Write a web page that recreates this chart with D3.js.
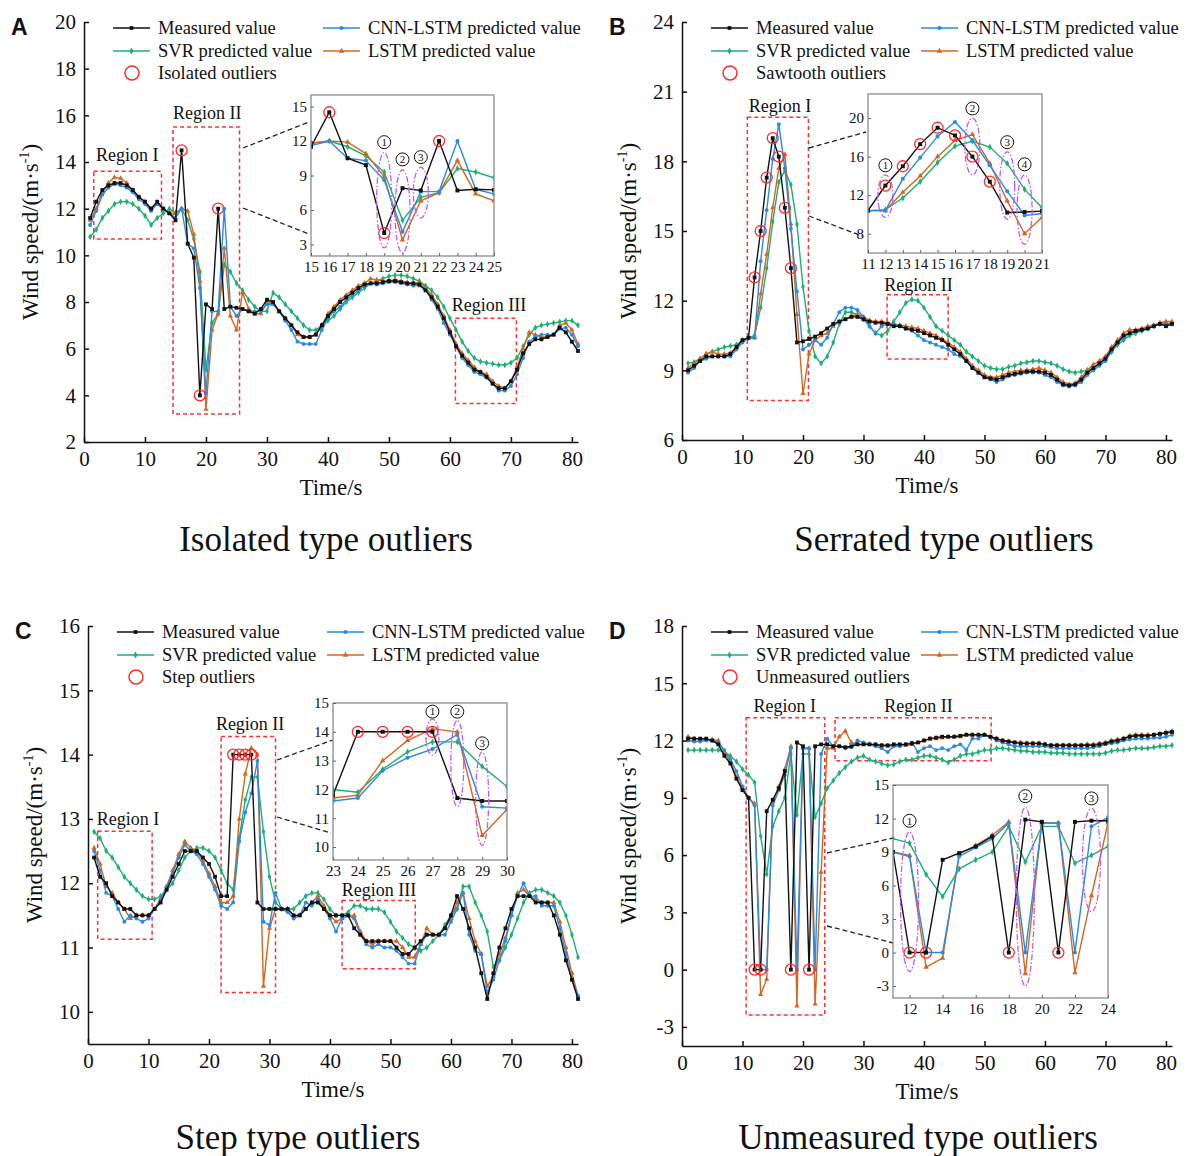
<!DOCTYPE html>
<html>
<head>
<meta charset="utf-8">
<script src="https://cdn.jsdelivr.net/npm/d3@7"></script>
<style>
  body { margin: 0; background: #fff; }
  svg { display: block; }
  text { fill: #111; }
</style>
</head>
<body>
<svg id="chart" width="1188" height="1156"></svg>
<script>
// time axis, seconds 1..81
const time = d3.range(1, 82)

// ---- A : isolated outliers
const aMeasured = [11.6, 12.3, 12.8, 13.0, 13.1, 13.1, 13.0, 12.8, 12.5, 12.3,
  12.0, 12.3, 12.0, 11.8, 11.5, 14.5, 10.5, 9.9, 4.0, 7.9,
  7.7, 12.0, 7.7, 7.8, 7.75, 7.7, 7.6, 7.5, 7.7, 8.1,
  8.0, 7.6, 7.3, 7.0, 6.7, 6.5, 6.5, 6.6, 7.0, 7.4,
  7.7, 8.0, 8.2, 8.4, 8.6, 8.75, 8.8, 8.8, 8.85, 8.9,
  8.9, 8.85, 8.8, 8.8, 8.75, 8.5, 8.2, 7.8, 7.3, 6.7,
  6.1, 5.7, 5.4, 5.1, 5.0, 4.8, 4.5, 4.3, 4.3, 4.6,
  5.1, 5.8, 6.2, 6.4, 6.4, 6.5, 6.6, 6.9, 6.7, 6.3, 5.9]
const aCnn = [11.3, 11.9, 12.6, 12.9, 13.05, 13.0, 12.9, 12.7, 12.4, 12.2,
  11.9, 12.2, 12.0, 11.8, 11.6, 12.0, 10.5, 10.3, 8.6, 4.1,
  7.6, 7.6, 12.0, 7.8, 7.4, 7.7, 7.6, 7.6, 7.6, 7.9,
  7.9, 7.6, 7.2, 6.8, 6.3, 6.2, 6.2, 6.2, 6.8, 7.3,
  7.6, 7.8, 8.1, 8.3, 8.5, 8.7, 8.8, 8.75, 8.8, 8.85,
  8.85, 8.8, 8.75, 8.7, 8.7, 8.5, 8.1, 7.7, 7.1, 6.6,
  6.1, 5.6, 5.3, 5.0, 4.9, 4.75, 4.5, 4.2, 4.2, 4.4,
  4.9, 5.6, 6.3, 6.5, 6.6, 6.6, 6.6, 6.85, 6.9, 6.6, 6.1]
const aSvr = [10.8, 11.1, 11.6, 11.9, 12.2, 12.3, 12.3, 12.2, 12.0, 11.7,
  11.3, 11.6, 11.8, 12.0, 11.8, 12.0, 11.5, 10.7, 9.3, 5.1,
  7.1, 7.5, 9.6, 9.3, 8.8, 8.5, 8.1, 7.8, 7.6, 7.6,
  8.4, 8.2, 7.9, 7.6, 7.3, 7.0, 6.8, 6.8, 7.0, 7.2,
  7.4, 7.7, 8.0, 8.2, 8.4, 8.6, 8.8, 8.9, 9.0, 9.1,
  9.15, 9.15, 9.1, 9.0, 8.9, 8.7, 8.5, 8.2, 7.8, 7.3,
  6.8, 6.3, 5.9, 5.6, 5.45, 5.4, 5.35, 5.3, 5.3, 5.4,
  5.6, 6.1, 6.6, 6.9, 7.0, 7.05, 7.1, 7.15, 7.2, 7.2, 7.0]
const aLstm = [11.5, 12.0, 12.7, 13.1, 13.35, 13.3, 13.1, 12.8, 12.5, 12.3,
  12.0, 12.2, 12.0, 11.8, 11.8, 12.0, 11.9, 10.9, 8.9, 3.4,
  6.8, 7.5, 10.3, 7.4, 6.8, 8.4, 7.7, 7.5, 7.5, 8.0,
  7.9, 7.6, 7.3, 7.0, 6.6, 6.5, 6.5, 6.6, 7.0, 7.5,
  7.8, 8.1, 8.3, 8.5, 8.7, 8.8, 9.0, 8.95, 8.9, 8.9,
  8.95, 8.9, 8.85, 8.8, 8.85, 8.6, 8.3, 7.9, 7.4, 6.8,
  6.2, 5.8, 5.5, 5.2, 5.0, 4.9, 4.6, 4.4, 4.3, 4.6,
  5.2, 6.0, 6.7, 6.6, 6.5, 6.5, 6.6, 7.0, 7.1, 6.8, 6.2]
const aOutliers = [16, 19, 22]

// ---- B : sawtooth outliers
const bMeasured = [9.0, 9.2, 9.4, 9.6, 9.6, 9.6, 9.6, 9.7, 10.0, 10.3,
  10.4, 13.0, 15.0, 17.3, 19.0, 18.2, 16.0, 13.4, 10.2, 10.25,
  10.35, 10.45, 10.6, 10.8, 11.0, 11.1, 11.2, 11.3, 11.3, 11.2,
  11.1, 11.05, 11.05, 11.0, 10.9, 10.9, 10.8, 10.75, 10.7, 10.6,
  10.5, 10.4, 10.3, 10.1, 9.9, 9.7, 9.4, 9.1, 8.9, 8.7,
  8.65, 8.6, 8.7, 8.8, 8.85, 8.9, 8.95, 8.95, 8.95, 8.9,
  8.8, 8.6, 8.4, 8.35, 8.4, 8.6, 8.9, 9.1, 9.3, 9.5,
  9.9, 10.2, 10.5, 10.6, 10.7, 10.75, 10.8, 10.9, 11.0, 10.9, 11.0]
const bCnn = [8.9, 9.1, 9.4, 9.5, 9.6, 9.6, 9.6, 9.6, 9.9, 10.2,
  10.4, 10.4, 13.7, 15.9, 18.1, 19.6, 17.7, 15.1, 12.4, 9.9,
  10.1, 10.3, 10.1, 10.4, 11.0, 11.5, 11.7, 11.7, 11.6, 11.3,
  10.9, 10.6, 10.9, 11.0, 11.0, 10.9, 10.8, 10.7, 10.5, 10.3,
  10.2, 10.1, 10.0, 9.9, 9.7, 9.6, 9.4, 9.1, 8.9, 8.7,
  8.6, 8.5, 8.6, 8.75, 8.8, 8.85, 8.9, 8.9, 8.9, 8.8,
  8.7, 8.5, 8.35, 8.3, 8.35, 8.5, 8.8, 9.0, 9.2, 9.4,
  9.8, 10.2, 10.4, 10.6, 10.65, 10.7, 10.8, 10.9, 11.0, 11.0, 11.0]
const bSvr = [9.3, 9.35, 9.5, 9.7, 9.8, 9.9, 10.0, 10.05, 10.1, 10.3,
  10.4, 10.5, 11.7, 13.4, 15.4, 17.1, 17.6, 17.0, 15.3, 12.6,
  10.7, 9.6, 9.3, 9.6, 10.2, 11.0, 11.5, 11.5, 11.4, 11.2,
  10.9, 10.6, 10.5, 10.7, 11.1, 11.5, 11.9, 12.05, 12.0, 11.7,
  11.3, 10.9, 10.7, 10.5, 10.3, 10.1, 9.8, 9.6, 9.4, 9.2,
  9.1, 9.05, 9.05, 9.15, 9.2, 9.3, 9.35, 9.4, 9.4, 9.35,
  9.3, 9.2, 9.05, 8.95, 8.9, 8.95, 9.0, 9.1, 9.3, 9.5,
  9.8, 10.1, 10.3, 10.5, 10.6, 10.7, 10.8, 10.9, 11.0, 11.0, 11.0]
const bLstm = [9.1, 9.3, 9.5, 9.7, 9.8, 9.7, 9.7, 9.75, 10.0, 10.3,
  10.4, 10.4, 12.3, 14.0, 16.0, 17.7, 18.3, 15.3, 11.4, 8.0,
  9.7, 10.3, 10.5, 10.6, 10.9, 11.1, 11.2, 11.35, 11.4, 11.3,
  11.15, 11.1, 11.1, 11.05, 11.0, 10.95, 10.9, 10.85, 10.8, 10.7,
  10.6, 10.5, 10.35, 10.2, 10.0, 9.8, 9.5, 9.2, 9.0, 8.8,
  8.7, 8.7, 8.8, 8.9, 8.95, 9.0, 9.0, 9.05, 9.1, 9.0,
  8.9, 8.7, 8.5, 8.4, 8.45, 8.7, 9.0, 9.25, 9.4, 9.6,
  10.0, 10.3, 10.6, 10.75, 10.75, 10.8, 10.9, 10.95, 11.05, 11.1, 11.1]
const bOutliers = [12, 13, 14, 15, 16, 17, 18]

// ---- C : step outliers
const cMeasured = [12.4, 12.1, 12.0, 11.8, 11.7, 11.6, 11.6, 11.5, 11.5, 11.5,
  11.6, 11.7, 11.9, 12.1, 12.3, 12.5, 12.5, 12.5, 12.4, 12.3,
  12.1, 11.8, 11.8, 14.0, 14.0, 14.0, 14.0, 11.7, 11.6, 11.6,
  11.6, 11.6, 11.6, 11.5, 11.5, 11.6, 11.7, 11.7, 11.6, 11.5,
  11.5, 11.5, 11.5, 11.3, 11.2, 11.1, 11.1, 11.1, 11.1, 11.1,
  11.0, 10.9, 10.9, 11.0, 11.1, 11.2, 11.2, 11.2, 11.3, 11.5,
  11.8, 11.6, 11.3, 11.0, 10.6, 10.2, 10.6, 11.0, 11.3, 11.6,
  11.8, 11.8, 11.8, 11.7, 11.7, 11.7, 11.5, 11.2, 10.8, 10.5, 10.2]
const cCnn = [12.5, 12.2, 11.85, 11.8, 11.6, 11.4, 11.5, 11.45, 11.4, 11.45,
  11.6, 11.75, 11.95, 12.15, 12.4, 12.6, 12.5, 12.45, 12.3, 12.1,
  11.9, 11.65, 11.6, 11.7, 12.65, 13.1, 13.4, 13.9, 11.4, 11.35,
  11.85, 11.6, 11.55, 11.45, 11.5, 11.7, 11.65, 11.75, 11.6, 11.45,
  11.25, 11.45, 11.5, 11.45, 11.2, 11.05, 11.0, 11.05, 11.0, 11.0,
  10.95, 10.85, 10.75, 10.75, 11.05, 11.2, 11.2, 11.2, 11.2, 11.4,
  11.6, 11.85, 11.2, 10.95, 10.9, 10.3, 10.5, 10.8, 11.1, 11.5,
  11.8, 12.0, 11.8, 11.8, 11.65, 11.65, 11.65, 11.3, 10.9, 10.5, 10.25]
const cSvr = [12.8, 12.7, 12.5, 12.4, 12.25, 12.1, 12.0, 11.9, 11.8, 11.75,
  11.75, 11.8, 11.9, 12.0, 12.2, 12.4, 12.5, 12.55, 12.55, 12.5,
  12.4, 12.2, 12.0, 11.9, 12.7, 13.3, 13.65, 13.65, 12.8, 12.1,
  11.7, 11.6, 11.6, 11.6, 11.7, 11.8, 11.85, 11.85, 11.75, 11.6,
  11.5, 11.5, 11.55, 11.65, 11.65, 11.6, 11.6, 11.6, 11.55, 11.4,
  11.25, 11.15, 11.05, 11.0, 10.95, 11.0, 11.1, 11.2, 11.35, 11.5,
  11.6, 11.95, 11.95, 11.7, 11.5, 11.25, 10.7, 10.8, 11.0, 11.2,
  11.45, 11.7, 11.85, 11.9, 11.9, 11.85, 11.8, 11.7, 11.5, 11.2, 10.85]
const cLstm = [12.55, 12.3, 11.95, 11.85, 11.7, 11.6, 11.45, 11.5, 11.5, 11.5,
  11.6, 11.75, 11.95, 12.2, 12.45, 12.65, 12.55, 12.5, 12.35, 12.15,
  11.95, 11.7, 11.7, 11.8, 13.0, 13.7, 14.1, 14.0, 10.4, 11.3,
  11.6, 11.6, 11.6, 11.5, 11.5, 11.6, 11.7, 11.8, 11.65, 11.5,
  11.4, 11.45, 11.5, 11.5, 11.25, 11.1, 11.05, 11.1, 11.1, 11.1,
  11.1, 11.0, 10.85, 10.85, 11.05, 11.3, 11.2, 11.2, 11.3, 11.45,
  11.7, 11.85, 11.45, 11.1, 10.9, 10.4, 10.55, 10.9, 11.15, 11.5,
  11.85, 11.9, 11.8, 11.75, 11.7, 11.7, 11.7, 11.4, 11.0, 10.6, 10.25]
const cOutliers = [24, 25, 26, 27]

// ---- D : unmeasured outliers
const dMeasured = [12.1, 12.1, 12.1, 12.1, 12.0, 11.8, 11.2, 10.8, 10.0, 9.4,
  9.0, 0, 0, 8.3, 8.9, 9.5, 10.4, 0, 11.9, 11.7,
  0, 11.7, 11.8, 11.8, 11.7, 11.7, 11.65, 11.7, 11.8, 11.8,
  11.8, 11.8, 11.75, 11.75, 11.8, 11.8, 11.8, 11.85, 11.9, 12.0,
  12.1, 12.15, 12.2, 12.2, 12.2, 12.25, 12.3, 12.3, 12.3, 12.3,
  12.2, 12.1, 12.0, 11.95, 11.9, 11.85, 11.85, 11.85, 11.85, 11.8,
  11.75, 11.75, 11.75, 11.75, 11.75, 11.75, 11.75, 11.75, 11.8, 11.85,
  11.95, 12.0, 12.1, 12.2, 12.25, 12.25, 12.25, 12.3, 12.35, 12.4, 12.45]
const dCnn = [12.0, 11.95, 11.95, 12.0, 12.0, 11.9, 11.5, 11.0, 10.4, 9.6,
  9.0, 8.6, 0, 0, 8.6, 9.4, 10.2, 11.6, 0, 11.6,
  11.6, 0, 11.3, 12.1, 11.7, 11.7, 11.6, 11.65, 12.0, 11.9,
  11.8, 11.7, 11.6, 11.4, 11.7, 11.7, 11.8, 11.9, 11.4, 11.6,
  11.7, 11.5, 11.6, 11.5, 11.7, 11.8, 11.5, 12.1, 12.1, 12.3,
  12.2, 12.0, 11.9, 11.8, 11.7, 11.7, 11.7, 11.7, 11.7, 11.7,
  11.65, 11.6, 11.6, 11.6, 11.6, 11.6, 11.6, 11.65, 11.7, 11.8,
  11.85, 11.9, 12.0, 12.05, 12.1, 12.1, 12.1, 12.15, 12.15, 12.2, 12.3]
const dSvr = [11.5, 11.5, 11.5, 11.5, 11.5, 11.5, 11.4, 11.2, 10.9, 10.5,
  10.2, 9.8, 7.0, 5.0, 7.5, 8.3, 9.0, 11.3, 8.1, 11.3,
  11.3, 8.0, 8.7, 9.5, 9.9, 10.3, 10.6, 10.9, 11.1, 11.2,
  11.0, 10.9, 10.8, 10.7, 10.75, 10.9, 11.0, 11.0, 11.1, 11.2,
  11.2, 11.1, 11.0, 10.85, 11.0, 11.2, 11.3, 11.3, 11.4, 11.5,
  11.5, 11.6, 11.6, 11.55, 11.5, 11.45, 11.45, 11.4, 11.4, 11.4,
  11.35, 11.35, 11.35, 11.3, 11.3, 11.3, 11.3, 11.3, 11.3, 11.35,
  11.45, 11.5, 11.5, 11.55, 11.6, 11.6, 11.6, 11.65, 11.7, 11.7, 11.75]
const dLstm = [12.2, 12.1, 12.05, 12.05, 12.05, 12.0, 11.4, 10.9, 10.1, 9.5,
  9.0, 8.7, -1.3, -0.5, 8.8, 9.6, 10.5, 11.7, -1.9, 11.6,
  11.6, -1.8, 5.1, 11.6, 11.6, 12.2, 12.5, 11.9, 11.8, 11.8,
  11.8, 11.75, 11.75, 11.7, 11.75, 11.75, 11.75, 11.8, 11.9, 12.0,
  12.1, 12.1, 12.15, 12.2, 12.2, 12.2, 12.3, 12.3, 12.3, 12.3,
  12.2, 12.1, 12.0, 11.95, 11.9, 11.9, 11.85, 11.85, 11.85, 11.8,
  11.75, 11.75, 11.75, 11.75, 11.75, 11.75, 11.8, 11.8, 11.85, 11.9,
  12.0, 12.05, 12.1, 12.25, 12.3, 12.3, 12.3, 12.3, 12.35, 12.45, 12.5]
const dOutliers = [12, 13, 18, 21]

// draw order: green, orange, blue, black on top
const seriesStyle = [
  { key: "svr", name: "SVR predicted value", color: "#1daf74", symbol: d3.symbolDiamond },
  { key: "lstm", name: "LSTM predicted value", color: "#d4661f", symbol: d3.symbolTriangle },
  { key: "cnn", name: "CNN-LSTM predicted value", color: "#2a8ae4", symbol: d3.symbolCircle },
  { key: "measured", name: "Measured value", color: "#111111", symbol: d3.symbolSquare },
]
const styleOf = (k) => seriesStyle.find((s) => s.key === k)

const serif = "'Liberation Serif', 'Times New Roman', serif"
const svg = d3.select("#chart").style("font-family", serif)
svg.append("rect").attr("width", 1188).attr("height", 1156).attr("fill", "#fff")

let clipId = 0
const plain = (d) => String(d)

function drawLines(g, x, y, series, outliers, domain, msize, orad) {
  const idx = time.map((t, i) => i).filter((i) => time[i] >= domain[0] && time[i] <= domain[1])
  const line = d3.line().x((i) => x(time[i]))

  seriesStyle.forEach((s) => {
    const vals = series[s.key]
    g.append("path")
      .attr("d", line.y((i) => y(vals[i]))(idx))
      .attr("fill", "none")
      .attr("stroke", s.color)
      .attr("stroke-width", 1.4)

    g.selectAll(null)
      .data(idx)
      .join("path")
      .attr("transform", (i) => `translate(${x(time[i])},${y(vals[i])})`)
      .attr("d", d3.symbol(s.symbol, s.key == "measured" ? msize * 1.2 : msize))
      .attr("fill", s.color)
  })

  g.selectAll(null)
    .data(outliers.filter((t) => t >= domain[0] && t <= domain[1]))
    .join("circle")
    .attr("cx", (t) => x(t))
    .attr("cy", (t) => y(series.measured[time.indexOf(t)]))
    .attr("r", orad)
    .attr("fill", "none")
    .attr("stroke", "#ff2b2b")
    .attr("stroke-width", 1.3)
}

function drawPanel(p) {
  const g = svg.append("g")
  const x = d3.scaleLinear().domain([0, 81]).range([p.left, p.right])
  const y = d3.scaleLinear().domain(p.yDomain).range([p.bottom, p.top])

  //region boxes
  p.regions.forEach((r) => {
    g.append("rect")
      .attr("x", x(r.t0)).attr("y", y(r.v1))
      .attr("width", x(r.t1) - x(r.t0)).attr("height", y(r.v0) - y(r.v1))
      .attr("fill", "none").attr("stroke", "#ff3030")
      .attr("stroke-width", 1.5).attr("stroke-dasharray", "4,3")
    g.append("text")
      .attr("x", x(r.lt)).attr("y", y(r.lv))
      .attr("dy", "0.35em").attr("text-anchor", "middle")
      .style("font-size", "18px").text(r.label)
  })

  drawLines(g, x, y, p.series, p.outliers, [0, 81], 12, 5.5)

  //axes
  const ax = g.append("g")
    .attr("transform", `translate(0,${p.bottom})`)
    .call(d3.axisBottom(x).tickValues(d3.range(0, 81, 10)).tickFormat(plain).tickSizeInner(-5).tickSizeOuter(0).tickPadding(9))
  const ay = g.append("g")
    .attr("transform", `translate(${p.left},0)`)
    .call(d3.axisLeft(y).tickValues(p.yTicks).tickFormat(plain).tickSizeInner(-5).tickSizeOuter(0).tickPadding(8))
  ;[ax, ay].forEach((a) => {
    a.attr("font-family", null).attr("font-size", null)
    a.selectAll("path, line").attr("stroke", "#111").attr("stroke-width", 1.5)
    a.selectAll("text").style("font-size", "21px").attr("fill", "#111")
  })

  //axis titles
  g.append("text")
    .attr("x", (p.left + p.right) / 2).attr("y", p.bottom + 53)
    .attr("text-anchor", "middle").style("font-size", "23px").text("Time/s")
  const yt = g.append("text")
    .attr("transform", `translate(${p.left - 46},${(p.top + p.bottom) / 2}) rotate(-90)`)
    .attr("text-anchor", "middle").style("font-size", "23px")
  yt.append("tspan").text("Wind speed/(m·s")
  yt.append("tspan").attr("dy", -9).style("font-size", "14px").text("-1")
  yt.append("tspan").attr("dy", 9).text(")")

  //panel letter + caption
  g.append("text")
    .attr("x", p.left - 73).attr("y", p.top + 13)
    .style("font-family", "'Liberation Sans', Arial, sans-serif").style("font-weight", "bold")
    .style("font-size", "23px").text(p.letter)
  g.append("text")
    .attr("x", p.capX).attr("y", p.capY)
    .attr("text-anchor", "middle").style("font-size", "35px").text(p.caption)

  //legend
  const rows = [
    [["measured", 0, 0], ["cnn", 1, 0]],
    [["svr", 0, 1], ["lstm", 1, 1]],
  ]
  const lx = [p.left + 29, p.left + 239]
  const ly = [p.top + 6, p.top + 29, p.top + 51]
  rows.flat().forEach(([k, c, r]) => {
    const s = styleOf(k)
    g.append("line")
      .attr("x1", lx[c]).attr("x2", lx[c] + 37)
      .attr("y1", ly[r]).attr("y2", ly[r])
      .attr("stroke", s.color).attr("stroke-width", 1.6)
    g.append("path")
      .attr("transform", `translate(${lx[c] + 18.5},${ly[r]})`)
      .attr("d", d3.symbol(s.symbol, 14))
      .attr("fill", s.color)
    g.append("text")
      .attr("x", lx[c] + 45).attr("y", ly[r]).attr("dy", "0.35em")
      .style("font-size", "18.5px").text(s.name)
  })
  g.append("circle")
    .attr("cx", lx[0] + 19).attr("cy", ly[2]).attr("r", 7)
    .attr("fill", "none").attr("stroke", "#ff2b2b").attr("stroke-width", 1.5)
  g.append("text")
    .attr("x", lx[0] + 45).attr("y", ly[2]).attr("dy", "0.35em")
    .style("font-size", "18.5px").text(p.outlierLabel)

  drawInset(g, p)
}

function drawInset(g, p) {
  const q = p.inset
  //dashed connectors
  q.connectors.forEach((c) => {
    g.append("line")
      .attr("x1", c[0]).attr("y1", c[1]).attr("x2", c[2]).attr("y2", c[3])
      .attr("stroke", "#222").attr("stroke-width", 1.3).attr("stroke-dasharray", "5,3")
  })

  const x = d3.scaleLinear().domain(q.xDomain).range([q.left, q.right])
  const y = d3.scaleLinear().domain(q.yDomain).range([q.bottom, q.top])
  const ig = g.append("g")
  ig.append("rect")
    .attr("x", q.left).attr("y", q.top)
    .attr("width", q.right - q.left).attr("height", q.bottom - q.top)
    .attr("fill", "#fff")

  const id = "clip" + clipId++
  ig.append("clipPath").attr("id", id)
    .append("rect")
    .attr("x", q.left).attr("y", q.top)
    .attr("width", q.right - q.left).attr("height", q.bottom - q.top)
  const body = ig.append("g").attr("clip-path", `url(#${id})`)

  drawLines(body, x, y, p.series, p.outliers, q.xDomain, 13, 5.5)

  //purple dash-dot ellipses with circled numbers
  q.ellipses.forEach((e, i) => {
    ig.append("ellipse")
      .attr("cx", x(e.t)).attr("cy", (y(e.lo) + y(e.hi)) / 2)
      .attr("rx", q.rx).attr("ry", (y(e.lo) - y(e.hi)) / 2)
      .attr("fill", "none").attr("stroke", "#c35af0")
      .attr("stroke-width", 1.3).attr("stroke-dasharray", "6,2,1.5,2")
    ig.append("circle")
      .attr("cx", x(e.t)).attr("cy", y(e.lv)).attr("r", 6.5)
      .attr("fill", "#fff").attr("stroke", "#111").attr("stroke-width", 1)
    ig.append("text")
      .attr("x", x(e.t)).attr("y", y(e.lv)).attr("dy", "0.35em")
      .attr("text-anchor", "middle").style("font-size", "11px").text(i + 1)
  })

  ig.append("rect")
    .attr("x", q.left).attr("y", q.top)
    .attr("width", q.right - q.left).attr("height", q.bottom - q.top)
    .attr("fill", "none").attr("stroke", "#8c8c8c").attr("stroke-width", 1.3)

  const ax = ig.append("g")
    .attr("transform", `translate(0,${q.bottom})`)
    .call(d3.axisBottom(x).tickValues(q.xTicks).tickFormat(plain).tickSizeInner(-3).tickSizeOuter(0).tickPadding(5))
  const ay = ig.append("g")
    .attr("transform", `translate(${q.left},0)`)
    .call(d3.axisLeft(y).tickValues(q.yTicks).tickFormat(plain).tickSizeInner(-3).tickSizeOuter(0).tickPadding(4))
  ;[ax, ay].forEach((a) => {
    a.attr("font-family", null).attr("font-size", null)
    a.select(".domain").remove()
    a.selectAll("line").attr("stroke", "#666")
    a.selectAll("text").style("font-size", "15px").attr("fill", "#111")
  })
}

drawPanel({
  letter: "A", caption: "Isolated type outliers", capX: 326, capY: 551,
  left: 84, right: 578, top: 22, bottom: 442,
  yDomain: [2, 20], yTicks: d3.range(2, 21, 2),
  series: { measured: aMeasured, cnn: aCnn, svr: aSvr, lstm: aLstm },
  outliers: aOutliers, outlierLabel: "Isolated outliers",
  regions: [
    { t0: 1.6, t1: 12.7, v0: 10.7, v1: 13.6, label: "Region I", lt: 7.1, lv: 14.3 },
    { t0: 14.6, t1: 25.5, v0: 3.2, v1: 15.5, label: "Region II", lt: 20.2, lv: 16.1 },
    { t0: 60.9, t1: 70.9, v0: 3.65, v1: 7.3, label: "Region III", lt: 66.4, lv: 7.9 },
  ],
  inset: {
    left: 311, right: 494, top: 95, bottom: 256, rx: 7.5,
    xDomain: [15, 25], yDomain: [2, 16], xTicks: d3.range(15, 26), yTicks: [3, 6, 9, 12, 15],
    ellipses: [
      { t: 19, lo: 2.7, hi: 11.0, lv: 11.9 },
      { t: 20, lo: 2.26, hi: 9.5, lv: 10.4 },
      { t: 21, lo: 5.3, hi: 9.7, lv: 10.6 },
    ],
    connectors: [[243, 148, 309, 122], [243, 208, 309, 234]],
  },
})

drawPanel({
  letter: "B", caption: "Serrated type outliers", capX: 944, capY: 551,
  left: 682, right: 1172, top: 22, bottom: 440,
  yDomain: [6, 24], yTicks: d3.range(6, 25, 3),
  series: { measured: bMeasured, cnn: bCnn, svr: bSvr, lstm: bLstm },
  outliers: bOutliers, outlierLabel: "Sawtooth outliers",
  regions: [
    { t0: 10.8, t1: 20.9, v0: 7.7, v1: 19.9, label: "Region I", lt: 16.2, lv: 20.4 },
    { t0: 33.9, t1: 44.0, v0: 9.49, v1: 12.26, label: "Region II", lt: 39.1, lv: 12.7 },
  ],
  inset: {
    left: 868, right: 1042, top: 94, bottom: 253, rx: 7.5,
    xDomain: [11, 21], yDomain: [6, 22.5], xTicks: d3.range(11, 22), yTicks: [8, 12, 16, 20],
    ellipses: [
      { t: 12, lo: 9.7, hi: 14.1, lv: 15.1 },
      { t: 17, lo: 14.1, hi: 20.0, lv: 21.0 },
      { t: 19, lo: 9.5, hi: 16.5, lv: 17.5 },
      { t: 20, lo: 6.9, hi: 14.1, lv: 15.2 },
    ],
    connectors: [[809, 148, 866, 132], [809, 216, 862, 236]],
  },
})

drawPanel({
  letter: "C", caption: "Step type outliers", capX: 298, capY: 1149,
  left: 88, right: 578, top: 626, bottom: 1044,
  yDomain: [9.5, 16], yTicks: d3.range(10, 17),
  series: { measured: cMeasured, cnn: cCnn, svr: cSvr, lstm: cLstm },
  outliers: cOutliers, outlierLabel: "Step outliers",
  regions: [
    { t0: 1.6, t1: 10.6, v0: 11.13, v1: 12.81, label: "Region I", lt: 6.6, lv: 13.0 },
    { t0: 22.0, t1: 31.0, v0: 10.3, v1: 14.28, label: "Region II", lt: 26.8, lv: 14.48 },
    { t0: 42.0, t1: 54.1, v0: 10.67, v1: 11.73, label: "Region III", lt: 48.1, lv: 11.9 },
  ],
  inset: {
    left: 333, right: 507, top: 703, bottom: 860, rx: 6.5,
    xDomain: [23, 30], yDomain: [9.55, 15], xTicks: d3.range(23, 31), yTicks: d3.range(10, 16),
    ellipses: [
      { t: 27, lo: 13.19, hi: 14.44, lv: 14.7 },
      { t: 28, lo: 11.4, hi: 14.4, lv: 14.7 },
      { t: 29, lo: 10.05, hi: 13.3, lv: 13.6 },
    ],
    connectors: [[277, 760, 333, 740], [277, 817, 331, 833]],
  },
})

drawPanel({
  letter: "D", caption: "Unmeasured type outliers", capX: 918, capY: 1149,
  left: 682, right: 1172, top: 626, bottom: 1046,
  yDomain: [-4, 18], yTicks: d3.range(-3, 19, 3),
  series: { measured: dMeasured, cnn: dCnn, svr: dSvr, lstm: dLstm },
  outliers: dOutliers, outlierLabel: "Unmeasured outliers",
  regions: [
    { t0: 10.6, t1: 23.6, v0: -2.37, v1: 13.2, label: "Region I", lt: 17.0, lv: 13.8 },
    { t0: 25.3, t1: 51.1, v0: 10.94, v1: 13.2, label: "Region II", lt: 39.1, lv: 13.8 },
  ],
  inset: {
    left: 893, right: 1108, top: 785, bottom: 998, rx: 9,
    xDomain: [11, 24], yDomain: [-4.07, 15], xTicks: d3.range(12, 25, 2), yTicks: d3.range(-3, 16, 3),
    ellipses: [
      { t: 12, lo: -1.7, hi: 10.8, lv: 11.8 },
      { t: 19, lo: -3.0, hi: 13.0, lv: 14.0 },
      { t: 23, lo: 3.66, hi: 12.9, lv: 13.8 },
    ],
    connectors: [[827, 853, 893, 838], [827, 926, 893, 943]],
  },
})
</script>
</body>
</html>
